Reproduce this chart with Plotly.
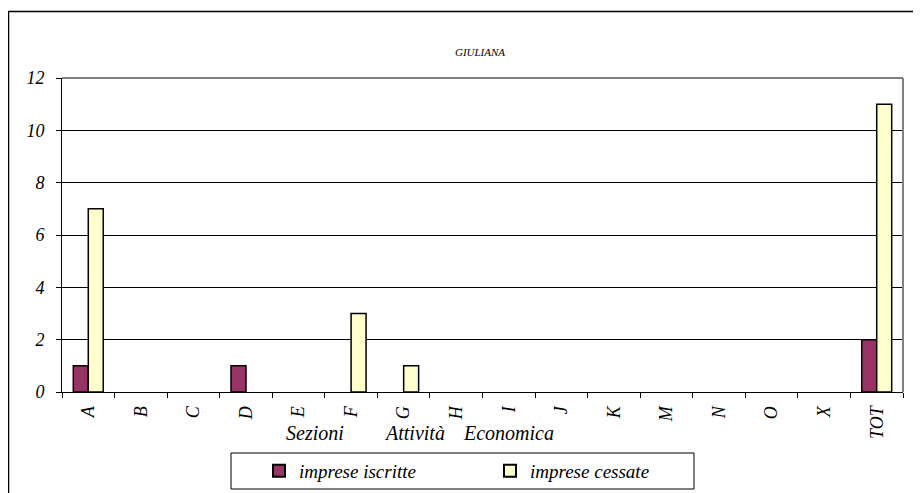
import plotly.graph_objects as go

categories = ["A", "B", "C", "D", "E", "F", "G", "H", "I", "J", "K", "M", "N", "O", "X", "TOT"]
iscritte = [1, 0, 0, 1, 0, 0, 0, 0, 0, 0, 0, 0, 0, 0, 0, 2]
cessate = [7, 0, 0, 0, 0, 3, 1, 0, 0, 0, 0, 0, 0, 0, 0, 11]
y_ticks = [0, 2, 4, 6, 8, 10, 12]
axis_title_words = ["Sezioni", "Attività", "Economica"]

FONT = "Liberation Serif, Times New Roman, serif"

fig = go.Figure()
fig.add_trace(go.Bar(x=categories, y=[v if v else None for v in iscritte], name="imprese iscritte",
                     marker=dict(color="#993366", line=dict(color="black", width=1.5))))
fig.add_trace(go.Bar(x=categories, y=[v if v else None for v in cessate], name="imprese cessate",
                     marker=dict(color="#FFFFCC", line=dict(color="black", width=1.5))))

# page body has an 8px margin, so the figure is drawn at (8, 8)
OFF = 8
W, H = 921 - OFF, 493 - OFF
L, R, T, B = 62 - OFF, 921 - 903, 78 - OFF, 493 - 392
PW, PH = W - L - R, H - T - B


def px_x(x):
    return (x - OFF - L) / PW


def px_y(y):
    return 1 - (y - OFF - T) / PH


fig.update_layout(
    width=W, height=H,
    margin=dict(l=L, r=R, t=T, b=B, autoexpand=False),
    paper_bgcolor="white", plot_bgcolor="white",
    barmode="group", bargap=0.43, bargroupgap=0,
    font=dict(family=FONT, color="black", style="italic"),
    title=dict(text="GIULIANA", x=(480 - OFF) / W, xanchor="center",
               y=1 - (52 - OFF) / H, yanchor="middle",
               font=dict(size=11, family=FONT, style="italic")),
    showlegend=True,
    legend=dict(orientation="h", x=px_x(259), xanchor="left",
                y=px_y(471), yanchor="middle",
                borderwidth=0, bgcolor="rgba(0,0,0,0)",
                font=dict(size=19, family=FONT, style="italic"), entrywidth=186,
                itemsizing="constant", tracegroupgap=0),
    xaxis=dict(
        type="category", tickangle=-90, tickson="boundaries",
        ticks="outside", ticklen=5, tickcolor="black",
        showline=True, linecolor="black", linewidth=1,
        tickfont=dict(size=18, family=FONT, style="italic"), showgrid=False,
        ticklabelstandoff=6, automargin=False,
    ),
    yaxis=dict(
        range=[0, 12], tickvals=y_ticks,
        ticks="outside", ticklen=5, tickcolor="black",
        showline=True, linecolor="black", linewidth=1,
        showgrid=True, gridcolor="black", gridwidth=1,
        tickfont=dict(size=18, family=FONT, style="italic"), zeroline=False,
        ticklabelstandoff=8, automargin=False,
    ),
)

# x-axis title words (spaced like the reference)
for word, cx in zip(axis_title_words, [315, 414, 508]):
    fig.add_annotation(text=word, xref="paper", yref="paper",
                       x=px_x(cx), y=px_y(433),
                       xanchor="center", yanchor="middle", showarrow=False,
                       font=dict(size=20, family=FONT, style="italic"))

# legend box
fig.add_shape(type="rect", xref="paper", yref="paper",
              x0=px_x(231), x1=px_x(694), y0=px_y(489), y1=px_y(453),
              line=dict(color="black", width=1), fillcolor="rgba(0,0,0,0)")

# plot area border (grey, top and right)
fig.add_shape(type="line", xref="paper", yref="paper", x0=0, x1=1, y0=1, y1=1,
              line=dict(color="#808080", width=2))
fig.add_shape(type="line", xref="paper", yref="paper", x0=1, x1=1, y0=0, y1=1,
              line=dict(color="#808080", width=2))

# outer chart border
fig.add_shape(type="rect", xref="paper", yref="paper",
              x0=px_x(8.5), x1=px_x(940),
              y0=px_y(520), y1=px_y(11.5),
              line=dict(color="black", width=1.5), fillcolor="rgba(0,0,0,0)", layer="below")

fig.write_html("out.html")
